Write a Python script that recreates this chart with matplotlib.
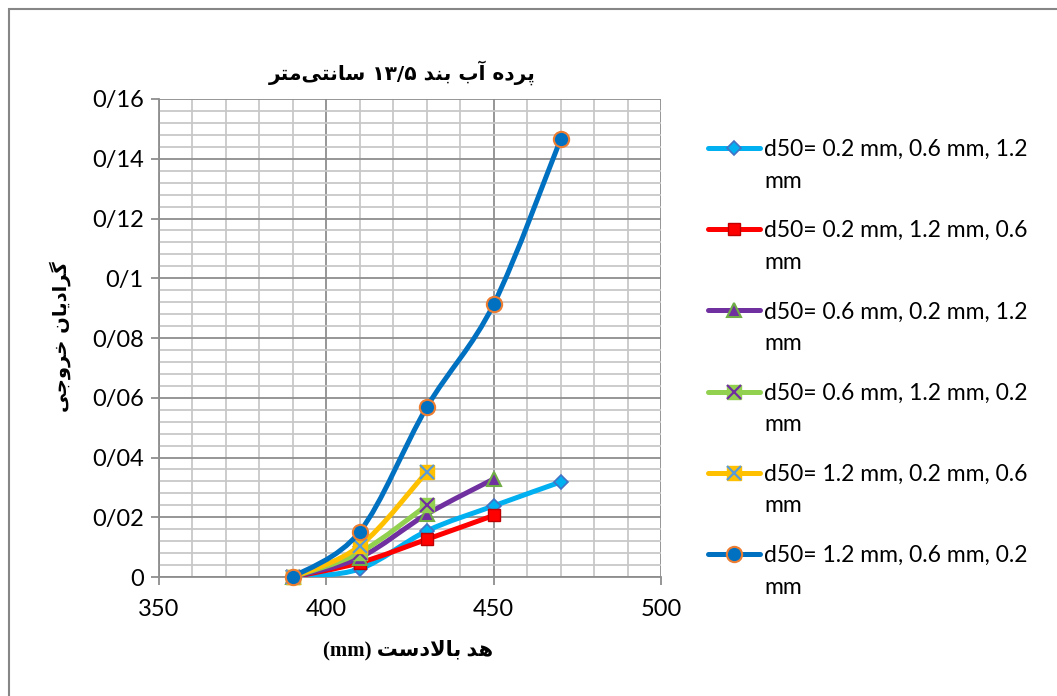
import matplotlib
matplotlib.use("Agg")
import matplotlib.pyplot as plt
import numpy as np
from matplotlib.path import Path
from matplotlib.patches import PathPatch, Rectangle
from matplotlib.lines import Line2D
from matplotlib.ticker import MultipleLocator, FuncFormatter

# ---------------- data ----------------
x_vals = [390, 410, 430, 450, 470]
s1 = [0.0, 0.0027, 0.0154, 0.0238, 0.0318]      # 0.2, 0.6, 1.2
s2 = [0.0, 0.0048, 0.0126, 0.0206]              # 0.2, 1.2, 0.6
s3 = [0.0, 0.0065, 0.0210, 0.0328]              # 0.6, 0.2, 1.2
s4 = [0.0, 0.0082, 0.0240]                      # 0.6, 1.2, 0.2
s5 = [0.0, 0.0104, 0.0352]                      # 1.2, 0.2, 0.6
s6 = [0.0, 0.0152, 0.0568, 0.0913, 0.1465]      # 1.2, 0.6, 0.2
labels = [
    "d50= 0.2 mm, 0.6 mm, 1.2\nmm",
    "d50= 0.2 mm, 1.2 mm, 0.6\nmm",
    "d50= 0.6 mm, 0.2 mm, 1.2\nmm",
    "d50= 0.6 mm, 1.2 mm, 0.2\nmm",
    "d50= 1.2 mm, 0.2 mm, 0.6\nmm",
    "d50= 1.2 mm, 0.6 mm, 0.2\nmm",
]
title_fa = "پرده آب بند ۱۳/۵ سانتی\u200cمتر"
xlabel_fa = "هد بالادست (mm)"
ylabel_fa = "گرادیان خروجی"

# ---------------- simple Arabic/Persian shaping ----------------
FORMS = {
    '\u0627': ('\uFE8D', '\uFE8E', None, None),
    '\u0622': ('\uFE81', '\uFE82', None, None),
    '\u0628': ('\uFE8F', '\uFE90', '\uFE91', '\uFE92'),
    '\u067E': ('\uFB56', '\uFB57', '\uFB58', '\uFB59'),
    '\u062A': ('\uFE95', '\uFE96', '\uFE97', '\uFE98'),
    '\u062C': ('\uFE9D', '\uFE9E', '\uFE9F', '\uFEA0'),
    '\u062E': ('\uFEA5', '\uFEA6', '\uFEA7', '\uFEA8'),
    '\u062F': ('\uFEA9', '\uFEAA', None, None),
    '\u0631': ('\uFEAD', '\uFEAE', None, None),
    '\u0633': ('\uFEB1', '\uFEB2', '\uFEB3', '\uFEB4'),
    '\u0644': ('\uFEDD', '\uFEDE', '\uFEDF', '\uFEE0'),
    '\u0645': ('\uFEE1', '\uFEE2', '\uFEE3', '\uFEE4'),
    '\u0646': ('\uFEE5', '\uFEE6', '\uFEE7', '\uFEE8'),
    '\u0647': ('\uFEE9', '\uFEEA', '\uFEEB', '\uFEEC'),
    '\u0648': ('\uFEED', '\uFEEE', None, None),
    '\u06CC': ('\uFBFC', '\uFBFD', '\uFBFE', '\uFBFF'),
    '\u06AF': ('\uFB92', '\uFB93', '\uFB94', '\uFB95'),
}


def shape_word(w):
    chars = list(w)
    out_units = []
    i = 0
    while i < len(chars):
        if chars[i] == '\u0644' and i + 1 < len(chars) and chars[i + 1] == '\u0627':
            out_units.append('LA')
            i += 2
        else:
            out_units.append(chars[i])
            i += 1

    def dual(u):
        if u == 'LA':
            return False
        f = FORMS.get(u)
        return f is not None and f[2] is not None

    def joining(u):
        return u == 'LA' or u in FORMS

    res = []
    for k, u in enumerate(out_units):
        if u == '\u200c':
            continue
        prev = out_units[k - 1] if k > 0 else None
        nxt = out_units[k + 1] if k + 1 < len(out_units) else None
        jp = prev is not None and dual(prev) and joining(u)
        if u == 'LA':
            res.append('\uFEFC' if jp else '\uFEFB')
            continue
        if u not in FORMS:
            res.append(u)
            continue
        jn = nxt is not None and dual(u) and joining(nxt)
        iso, fin, ini, med = FORMS[u]
        if jp and jn:
            res.append(med)
        elif jp:
            res.append(fin)
        elif jn:
            res.append(ini)
        else:
            res.append(iso)
    return ''.join(reversed(res))


def is_rtl(w):
    return any(c in FORMS for c in w)


def visual(s):
    words = s.split(' ')
    return ' '.join(shape_word(w) if is_rtl(w) else w for w in reversed(words))

# ---------------- figure ----------------
W, H = 1057, 696
fig = plt.figure(figsize=(W / 100, H / 100), dpi=100)
fig.patch.set_facecolor('white')

L, R, T, B = 159, 661, 99, 577
ax = fig.add_axes([L / W, 1 - B / H, (R - L) / W, (B - T) / H])

ax.set_xlim(350, 500)
ax.set_ylim(0, 0.16)
ax.xaxis.set_major_locator(MultipleLocator(50))
ax.xaxis.set_minor_locator(MultipleLocator(10))
ax.yaxis.set_major_locator(MultipleLocator(0.02))
ax.yaxis.set_minor_locator(MultipleLocator(0.004))

ax.grid(which='minor', color='#C8C8C8', linewidth=1.3, zorder=0)
ax.grid(which='major', color='#8E8E8E', linewidth=1.3, zorder=0)
ax.set_axisbelow(True)

for side in ['top', 'right']:
    ax.spines[side].set_visible(False)
for side in ['left', 'bottom']:
    ax.spines[side].set_color('#8E8E8E')
    ax.spines[side].set_linewidth(1.3)

tick_font = 'Lato'
ax.tick_params(which='major', length=6, width=1.3, color='#8E8E8E', direction='out',
               labelsize=17, pad=5)
ax.tick_params(which='minor', length=0)
ax.tick_params(axis='x', pad=10)


def yfmt(v, pos):
    if abs(v) < 1e-12:
        return '0'
    s = ('%.2f' % v).rstrip('0').rstrip('.')
    return s.replace('.', '/')


ax.yaxis.set_major_formatter(FuncFormatter(yfmt))
ax.xaxis.set_major_formatter(FuncFormatter(lambda v, p: '%d' % v))
for lab in ax.get_xticklabels() + ax.get_yticklabels():
    lab.set_fontfamily(tick_font)


def smooth_path(xs, ys):
    pts = np.column_stack([xs, ys]).astype(float)
    n = len(pts)
    verts = [pts[0]]
    codes = [Path.MOVETO]
    for i in range(n - 1):
        p0 = pts[i - 1] if i > 0 else pts[i]
        p1 = pts[i]
        p2 = pts[i + 1]
        p3 = pts[i + 2] if i + 2 < n else pts[i + 1]
        c1 = p1 + (p2 - p0) / 6.0
        c2 = p2 - (p3 - p1) / 6.0
        verts += [c1, c2, p2]
        codes += [Path.CURVE4] * 3
    return Path(verts, codes)


series = [
    dict(y=s1, color='#00B0F0', marker='D', ms=7.5, mfc='#00B0F0', mec='#4472C4', mew=1.2),
    dict(y=s2, color='#FF0000', marker='s', ms=9, mfc='#FF0000', mec='#C00000', mew=1.0),
    dict(y=s3, color='#7030A0', marker='^', ms=10, mfc='#7030A0', mec='#70AD47', mew=1.5),
    dict(y=s4, color='#92D050', marker='x', ms=10, mfc='none', mec='#7030A0', mew=1.6, bg='#92D050'),
    dict(y=s5, color='#FFC000', marker='x', ms=10, mfc='none', mec='#5B9BD5', mew=1.6, bg='#FFC000'),
    dict(y=s6, color='#0070C0', marker='o', ms=11, mfc='#0070C0', mec='#ED7D31', mew=1.5),
]

lw = 3.6
for k, s in enumerate(series):
    xs = x_vals[:len(s['y'])]
    p = PathPatch(smooth_path(xs, s['y']), facecolor='none', edgecolor=s['color'],
                  linewidth=lw, capstyle='round', joinstyle='round', zorder=3 + k)
    ax.add_patch(p)
    if 'bg' in s:
        ax.plot(xs, s['y'], linestyle='none', marker='s', ms=s['ms'] * 0.95,
                mfc=s['bg'], mec=s['bg'], zorder=3.5 + k, clip_on=False)
    ax.plot(xs, s['y'], linestyle='none', marker=s['marker'], ms=s['ms'],
            mfc=s['mfc'], mec=s['mec'], mew=s['mew'], zorder=3.6 + k, clip_on=False)

# ---------------- texts ----------------
fig.text(402 / W, 1 - 73 / H, visual(title_fa), ha='center', va='center',
         fontsize=14.5, fontweight='bold', family=['DejaVu Sans'])
fig.text(408 / W, 1 - 650 / H, visual(xlabel_fa), ha='center', va='center',
         fontsize=15, fontweight='bold', family=['Liberation Serif', 'DejaVu Sans'])
fig.text(60 / W, 1 - 337 / H, visual(ylabel_fa), ha='center', va='center', rotation=90,
         fontsize=14, fontweight='bold', family=['DejaVu Sans'])

# ---------------- legend (drawn manually) ----------------
leg_y0 = 148
leg_dy = 81.2
leg_fs = 16.5
for k, s in enumerate(series):
    yc = 1 - (leg_y0 + k * leg_dy) / H
    x0, x1 = 708 / W, 760 / W
    fig.add_artist(Line2D([x0, x1], [yc, yc], color=s['color'], linewidth=lw,
                          solid_capstyle='round', transform=fig.transFigure))
    xm = (x0 + x1) / 2
    if 'bg' in s:
        fig.add_artist(Line2D([xm], [yc], linestyle='none', marker='s', ms=s['ms'] * 0.95,
                              mfc=s['bg'], mec=s['bg'], transform=fig.transFigure))
    fig.add_artist(Line2D([xm], [yc], linestyle='none', marker=s['marker'], ms=s['ms'],
                          mfc=s['mfc'], mec=s['mec'], mew=s['mew'], transform=fig.transFigure))
    fig.text(764 / W, yc + 9 / H, labels[k], ha='left', va='top', fontsize=leg_fs,
             family=tick_font, linespacing=1.62)

# chart area border
fig.add_artist(Rectangle((9 / W, -0.01), 1.1, 1 - 9 / H + 0.01, transform=fig.transFigure,
                         facecolor='none', edgecolor='#868686', linewidth=1.5))

fig.savefig('out.png', dpi=100)
